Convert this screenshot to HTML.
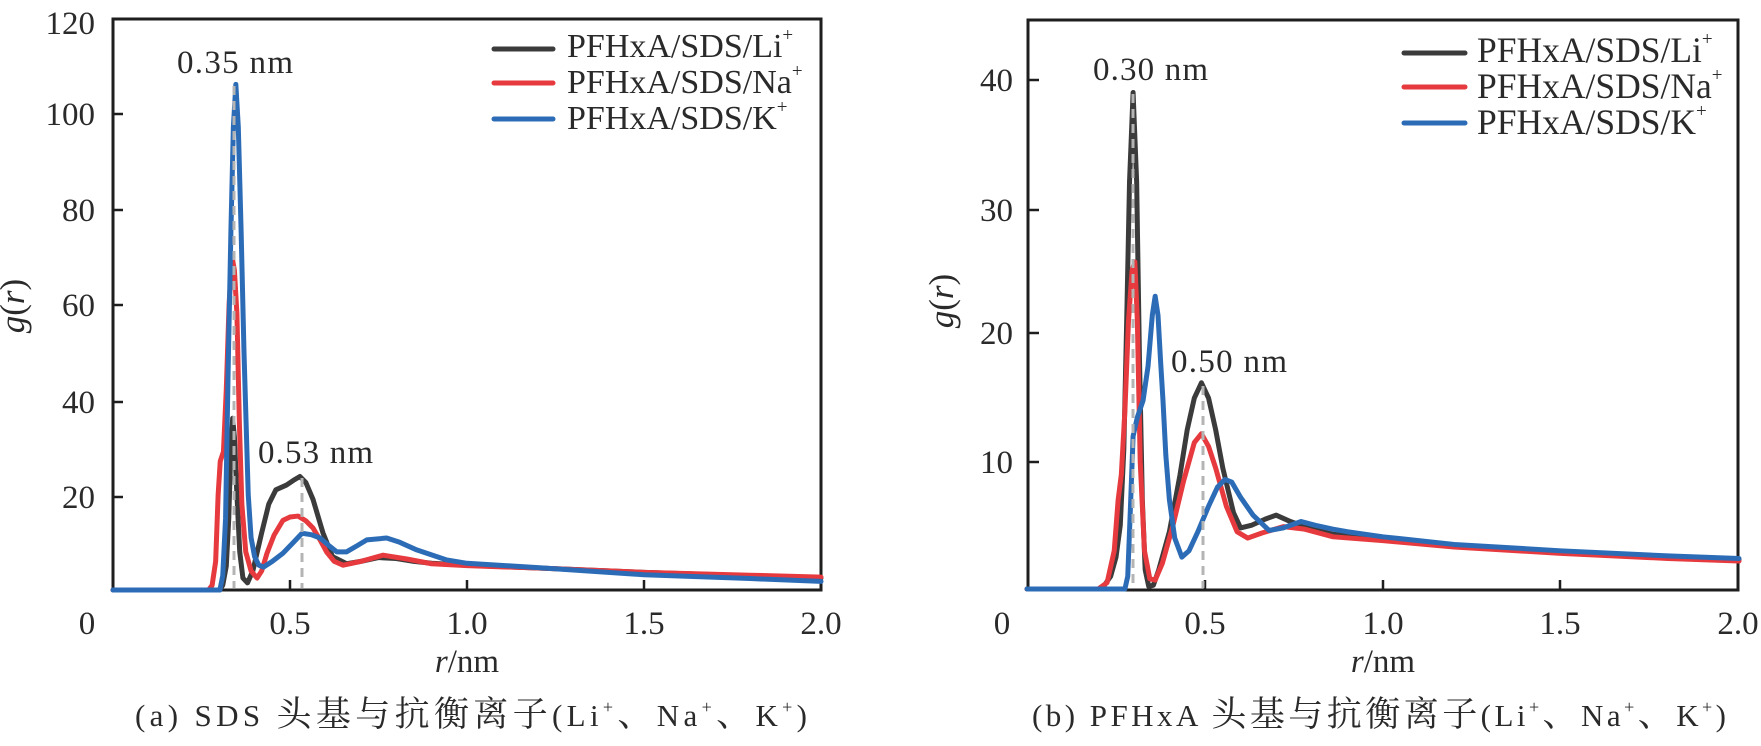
<!DOCTYPE html>
<html>
<head>
<meta charset="utf-8">
<style>
  html, body { margin: 0; padding: 0; background: #ffffff; }
  svg { display: block; }
  text { font-family: "Liberation Serif", "Noto Serif CJK SC", serif; fill: #2a2a2a; }
</style>
</head>
<body>
<svg width="1761" height="746" viewBox="0 0 1761 746" xmlns="http://www.w3.org/2000/svg">
  <rect x="0" y="0" width="1761" height="746" fill="#ffffff"/>

  <!-- ================= LEFT PANEL ================= -->
  <rect x="113" y="19" width="708" height="571" fill="none" stroke="#1e1e1e" stroke-width="3"/>
  <g stroke="#1e1e1e" stroke-width="2.5">
    <line x1="113" y1="114" x2="123" y2="114"/>
    <line x1="113" y1="210" x2="123" y2="210"/>
    <line x1="113" y1="305" x2="123" y2="305"/>
    <line x1="113" y1="402" x2="123" y2="402"/>
    <line x1="113" y1="497" x2="123" y2="497"/>
    <line x1="290" y1="590" x2="290" y2="580"/>
    <line x1="467" y1="590" x2="467" y2="580"/>
    <line x1="644" y1="590" x2="644" y2="580"/>
  </g>
  <g font-size="33" text-anchor="end">
    <text x="95" y="34">120</text>
    <text x="95" y="125">100</text>
    <text x="95" y="221">80</text>
    <text x="95" y="316">60</text>
    <text x="95" y="413">40</text>
    <text x="95" y="508">20</text>
  </g>
  <g font-size="33" text-anchor="middle">
    <text x="87" y="634">0</text>
    <text x="290" y="634">0.5</text>
    <text x="467" y="634">1.0</text>
    <text x="644" y="634">1.5</text>
    <text x="821" y="634">2.0</text>
    <text x="467" y="672"><tspan font-style="italic">r</tspan>/nm</text>
  </g>
  <text transform="translate(24,306) rotate(-90)" text-anchor="middle" font-size="35"><tspan font-style="italic">g</tspan>(<tspan font-style="italic">r</tspan>)</text>

  <g transform="translate(113,590) scale(354,-4.77)" fill="none" stroke-width="5" stroke-linejoin="round" stroke-linecap="round">
    <path vector-effect="non-scaling-stroke" stroke="#3b3b3b" d="M0 0 L0.30 0 L0.31 1 L0.32 5 L0.327 15 L0.333 30 L0.338 36 L0.343 32 L0.35 20 L0.358 8 L0.367 2.5 L0.38 1.5 L0.395 4 L0.42 12 L0.44 18 L0.46 21 L0.49 22 L0.51 23 L0.528 23.8 L0.545 22.5 L0.565 19 L0.593 12 L0.62 7 L0.66 5.5 L0.70 6 L0.75 6.8 L0.80 6.6 L0.85 6 L0.9 5.6 L1.0 5.2 L1.2 4.6 L1.5 3.7 L1.8 3.0 L2.0 2.5"/>
    <path vector-effect="non-scaling-stroke" stroke="#e63a3e" d="M0 0 L0.27 0 L0.28 1 L0.29 6 L0.297 20 L0.303 27 L0.312 29 L0.32 42 L0.328 60 L0.336 70 L0.343 67 L0.35 58 L0.357 35 L0.364 18 L0.375 8 L0.39 4 L0.407 2.5 L0.42 4 L0.435 7.7 L0.455 11.5 L0.48 14.6 L0.50 15.3 L0.523 15.5 L0.545 14.5 L0.565 13 L0.585 10.5 L0.604 7.9 L0.625 6 L0.65 5.2 L0.7 6 L0.763 7.3 L0.83 6.5 L0.9 5.5 L1.0 5.1 L1.2 4.6 L1.5 3.7 L1.8 3.1 L2.0 2.7"/>
    <path vector-effect="non-scaling-stroke" stroke="#2c6cb7" d="M0 0 L0.302 0 L0.31 3 L0.318 15 L0.325 45 L0.333 75 L0.34 97 L0.347 106 L0.354 97 L0.362 75 L0.37 50 L0.376 35 L0.382 20 L0.39 11 L0.40 7 L0.412 5.2 L0.425 4.8 L0.45 6 L0.48 7.7 L0.51 10 L0.534 11.9 L0.56 11.6 L0.585 10.9 L0.61 9.3 L0.632 8 L0.66 8 L0.69 9.3 L0.717 10.5 L0.773 10.9 L0.81 10 L0.858 8.4 L0.943 6.3 L1.0 5.6 L1.2 4.7 L1.5 3.2 L1.8 2.4 L2.0 1.8"/>
  </g>
  <g stroke="#b4b4b4" stroke-width="3" stroke-dasharray="9 6">
    <line x1="234" y1="86" x2="234" y2="588"/>
    <line x1="302" y1="478" x2="302" y2="588"/>
  </g>
  <g font-size="33">
    <text x="177" y="73" textLength="116" lengthAdjust="spacing">0.35 nm</text>
    <text x="258" y="463" textLength="115" lengthAdjust="spacing">0.53 nm</text>
  </g>
  <g stroke-width="5" stroke-linecap="round">
    <line x1="494" y1="49" x2="553" y2="49" stroke="#3b3b3b"/>
    <line x1="494" y1="83" x2="553" y2="83" stroke="#e63a3e"/>
    <line x1="494" y1="119" x2="553" y2="119" stroke="#2c6cb7"/>
  </g>
  <g font-size="34">
    <text x="567" y="57">PFHxA/SDS/Li<tspan font-size="19" dy="-16">+</tspan></text>
    <text x="567" y="93">PFHxA/SDS/Na<tspan font-size="19" dy="-16">+</tspan></text>
    <text x="567" y="129">PFHxA/SDS/K<tspan font-size="19" dy="-16">+</tspan></text>
  </g>
  <text x="135" y="726" font-size="31" textLength="672" lengthAdjust="spacing">(a) SDS <tspan font-size="35">头基与抗衡离子</tspan>(Li<tspan font-size="18" dy="-13">+</tspan><tspan dy="13" font-size="35">、</tspan>Na<tspan font-size="18" dy="-13">+</tspan><tspan dy="13" font-size="35">、</tspan>K<tspan font-size="18" dy="-13">+</tspan><tspan dy="13">)</tspan></text>

  <!-- ================= RIGHT PANEL ================= -->
  <rect x="1028" y="20" width="710" height="570" fill="none" stroke="#1e1e1e" stroke-width="3"/>
  <g stroke="#1e1e1e" stroke-width="2.5">
    <line x1="1028" y1="80" x2="1039" y2="80"/>
    <line x1="1028" y1="210" x2="1039" y2="210"/>
    <line x1="1028" y1="333" x2="1039" y2="333"/>
    <line x1="1028" y1="462" x2="1039" y2="462"/>
    <line x1="1205" y1="590" x2="1205" y2="580"/>
    <line x1="1383" y1="590" x2="1383" y2="580"/>
    <line x1="1560" y1="590" x2="1560" y2="580"/>
  </g>
  <g font-size="33" text-anchor="end">
    <text x="1013" y="91">40</text>
    <text x="1013" y="221">30</text>
    <text x="1013" y="344">20</text>
    <text x="1013" y="473">10</text>
  </g>
  <g font-size="33" text-anchor="middle">
    <text x="1002" y="634">0</text>
    <text x="1205" y="634">0.5</text>
    <text x="1383" y="634">1.0</text>
    <text x="1560" y="634">1.5</text>
    <text x="1738" y="634">2.0</text>
    <text x="1383" y="672"><tspan font-style="italic">r</tspan>/nm</text>
  </g>
  <text transform="translate(953,301) rotate(-90)" text-anchor="middle" font-size="35"><tspan font-style="italic">g</tspan>(<tspan font-style="italic">r</tspan>)</text>

  <g transform="translate(1027,589) scale(356,-12.73)" fill="none" stroke-width="5" stroke-linejoin="round" stroke-linecap="round">
    <path vector-effect="non-scaling-stroke" stroke="#3b3b3b" d="M0 0 L0.21 0 L0.235 1 L0.25 2.5 L0.262 5 L0.272 11 L0.28 21 L0.288 32 L0.298 39 L0.308 32 L0.316 18 L0.324 7 L0.332 1.5 L0.342 0.2 L0.355 0.3 L0.37 1.5 L0.40 4.5 L0.43 9 L0.45 12.5 L0.47 15 L0.49 16.2 L0.51 15 L0.53 12.5 L0.55 9.5 L0.58 6 L0.60 4.8 L0.63 5 L0.67 5.5 L0.70 5.8 L0.74 5.3 L0.80 4.7 L0.86 4.3 L1.0 3.9 L1.2 3.4 L1.5 2.9 L1.8 2.5 L2.0 2.3"/>
    <path vector-effect="non-scaling-stroke" stroke="#e63a3e" d="M0 0 L0.20 0 L0.225 0.5 L0.245 3 L0.256 7 L0.265 9 L0.275 14 L0.285 21 L0.295 25 L0.303 25.7 L0.31 21 L0.318 10 L0.33 3 L0.345 0.8 L0.36 0.7 L0.38 2 L0.41 5 L0.44 8.5 L0.47 11.5 L0.49 12.2 L0.51 11.2 L0.53 9.5 L0.56 6.5 L0.59 4.5 L0.62 4 L0.66 4.4 L0.72 4.9 L0.78 4.7 L0.86 4.1 L1.0 3.8 L1.2 3.3 L1.5 2.8 L1.8 2.4 L2.0 2.2"/>
    <path vector-effect="non-scaling-stroke" stroke="#2c6cb7" d="M0 0 L0.275 0 L0.283 1 L0.29 6 L0.298 12 L0.31 13.5 L0.326 14.8 L0.34 17.5 L0.352 21.5 L0.36 23 L0.368 21.5 L0.375 18 L0.382 14.8 L0.39 10.5 L0.40 7 L0.415 4 L0.435 2.5 L0.455 3 L0.48 4.5 L0.51 6.5 L0.535 8 L0.556 8.6 L0.575 8.4 L0.60 7.2 L0.635 5.8 L0.68 4.6 L0.72 4.8 L0.77 5.3 L0.81 5 L0.86 4.7 L0.9 4.5 L1.0 4.1 L1.2 3.5 L1.5 3.0 L1.8 2.6 L2.0 2.4"/>
  </g>
  <g stroke="#b4b4b4" stroke-width="3" stroke-dasharray="9 6">
    <line x1="1133" y1="94" x2="1133" y2="588"/>
    <line x1="1203" y1="386" x2="1203" y2="588"/>
  </g>
  <g font-size="33">
    <text x="1093" y="80" textLength="115" lengthAdjust="spacing">0.30 nm</text>
    <text x="1171" y="372" textLength="116" lengthAdjust="spacing">0.50 nm</text>
  </g>
  <g stroke-width="5" stroke-linecap="round">
    <line x1="1404" y1="53" x2="1465" y2="53" stroke="#3b3b3b"/>
    <line x1="1404" y1="87" x2="1465" y2="87" stroke="#e63a3e"/>
    <line x1="1404" y1="123" x2="1465" y2="123" stroke="#2c6cb7"/>
  </g>
  <g font-size="35.5">
    <text x="1477" y="62">PFHxA/SDS/Li<tspan font-size="19" dy="-17">+</tspan></text>
    <text x="1477" y="98">PFHxA/SDS/Na<tspan font-size="19" dy="-17">+</tspan></text>
    <text x="1477" y="134">PFHxA/SDS/K<tspan font-size="19" dy="-17">+</tspan></text>
  </g>
  <text x="1032" y="726" font-size="31" textLength="694" lengthAdjust="spacing">(b) PFHxA <tspan font-size="35">头基与抗衡离子</tspan>(Li<tspan font-size="18" dy="-13">+</tspan><tspan dy="13" font-size="35">、</tspan>Na<tspan font-size="18" dy="-13">+</tspan><tspan dy="13" font-size="35">、</tspan>K<tspan font-size="18" dy="-13">+</tspan><tspan dy="13">)</tspan></text>
</svg>
</body>
</html>
